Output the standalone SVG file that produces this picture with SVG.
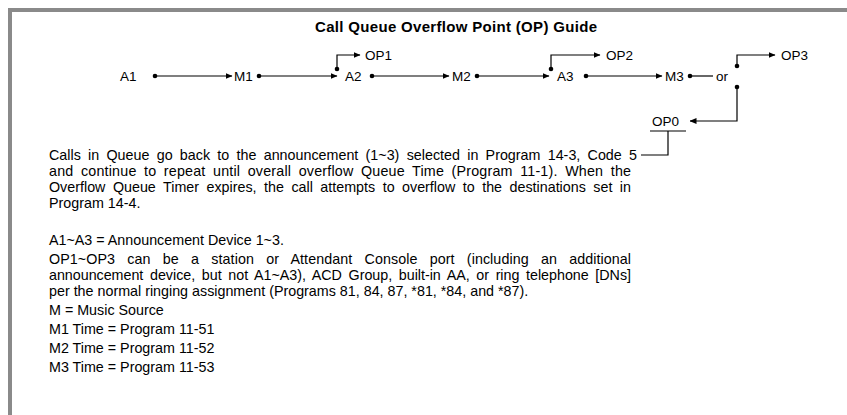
<svg xmlns="http://www.w3.org/2000/svg" width="847" height="415" viewBox="0 0 847 415">
<defs>
<marker id="ah" markerWidth="7" markerHeight="6" refX="6.5" refY="3" orient="auto" markerUnits="userSpaceOnUse">
<path d="M0,0 L7,3 L0,6 z" fill="#000"/>
</marker>
<style>
text{font-family:"Liberation Sans",Arial,sans-serif;fill:#000}
.t{font-size:13.5px}
.b{font-size:14.3px}
.h{font-size:15px;font-weight:bold}
.ln{stroke:#000;stroke-width:1.2;fill:none}
.ar{marker-end:url(#ah)}
.d{fill:#000}
</style>
</defs>
<rect width="847" height="415" fill="#fff"/>
<g id="frame">
<rect x="8" y="8" width="839" height="4" fill="#8a8a8a"/>
<rect x="8" y="8" width="4" height="407" fill="#8a8a8a"/>
</g>
<text class="h" x="315" y="32" textLength="282">Call Queue Overflow Point (OP) Guide</text>
<g id="connectors">
<line class="ln ar" x1="155" y1="76" x2="232" y2="76"/>
<line class="ln ar" x1="259" y1="76" x2="337" y2="76"/>
<line class="ln ar" x1="372" y1="76" x2="449" y2="76"/>
<line class="ln ar" x1="477" y1="76" x2="549" y2="76"/>
<line class="ln ar" x1="586" y1="76" x2="662" y2="76"/>
<line class="ln" x1="690" y1="76" x2="713" y2="76"/>
<polyline class="ln ar" points="337,69 337,55 360,55"/>
<polyline class="ln ar" points="551,69 551,55 600,55"/>
<polyline class="ln ar" points="737,66 737,55 775,55"/>
<polyline class="ln ar" points="737,87 737,121 690,121"/>
<line class="ln" x1="650" y1="131" x2="686" y2="131"/>
<polyline class="ln" points="668,131 668,155 641,155"/>
<circle class="d" cx="155" cy="76" r="2.3"/>
<circle class="d" cx="259" cy="76" r="2.3"/>
<circle class="d" cx="372" cy="76" r="2.3"/>
<circle class="d" cx="477" cy="76" r="2.3"/>
<circle class="d" cx="586" cy="76" r="2.3"/>
<circle class="d" cx="690" cy="76" r="2.3"/>
<circle class="d" cx="337" cy="69" r="2.3"/>
<circle class="d" cx="551" cy="69" r="2.3"/>
<circle class="d" cx="737" cy="66" r="2.3"/>
<circle class="d" cx="737" cy="87" r="2.3"/>
</g>
<g id="A1"><text class="t" x="120" y="80.5">A1</text></g>
<g id="M1"><text class="t" x="234" y="80.5">M1</text></g>
<g id="A2"><text class="t" x="345" y="80.5">A2</text></g>
<g id="M2"><text class="t" x="452" y="80.5">M2</text></g>
<g id="A3"><text class="t" x="557" y="80.5">A3</text></g>
<g id="M3"><text class="t" x="665" y="80.5">M3</text></g>
<g id="or"><text class="t" x="716" y="80.5">or</text></g>
<g id="OP1"><text class="t" x="365" y="59.5">OP1</text></g>
<g id="OP2"><text class="t" x="606" y="59.5">OP2</text></g>
<g id="OP3"><text class="t" x="781" y="59.5">OP3</text></g>
<g id="OP0"><text class="t" x="652" y="125.5">OP0</text></g>
<g id="notes">
<text class="b" x="49" y="160" word-spacing="3.3" textLength="588">Calls in Queue go back to the announcement (1~3) selected in Program 14-3, Code 5</text>
<text class="b" x="49" y="176" word-spacing="3.3" textLength="582">and continue to repeat until overall overflow Queue Time (Program 11-1). When the</text>
<text class="b" x="49" y="192" word-spacing="3.5" textLength="582">Overflow Queue Timer expires, the call attempts to overflow to the destinations set in</text>
<text class="b" x="49" y="208">Program 14-4.</text>
<text class="b" x="49" y="245">A1~A3 = Announcement Device 1~3.</text>
<text class="b" x="49" y="264" word-spacing="8.2" textLength="582">OP1~OP3 can be a station or Attendant Console port (including an additional</text>
<text class="b" x="49" y="280" word-spacing="2.7" textLength="582">announcement device, but not A1~A3), ACD Group, built-in AA, or ring telephone [DNs]</text>
<text class="b" x="49" y="296">per the normal ringing assignment (Programs 81, 84, 87, *81, *84, and *87).</text>
<text class="b" x="49" y="315">M = Music Source</text>
<text class="b" x="49" y="334">M1 Time = Program 11-51</text>
<text class="b" x="49" y="353">M2 Time = Program 11-52</text>
<text class="b" x="49" y="372">M3 Time = Program 11-53</text>
</g>
</svg>
